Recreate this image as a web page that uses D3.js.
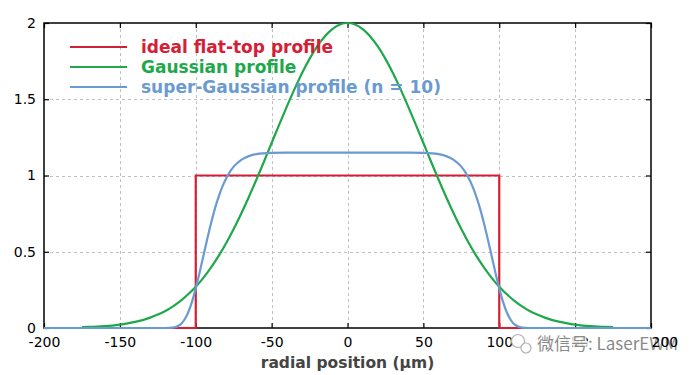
<!DOCTYPE html>
<html>
<head>
<meta charset="utf-8">
<script src="https://cdn.jsdelivr.net/npm/d3@7"></script>
<style>
  html, body { margin: 0; padding: 0; background: #fff; }
  svg { display: block; font-family: "DejaVu Sans", Verdana, sans-serif; }
</style>
</head>
<body>
<svg id="chart" width="700" height="375"></svg>
<script>
// ---- data ----
const xTicks = [-200, -150, -100, -50, 0, 50, 100, 150, 200];
const yTicks = [0, 0.5, 1, 1.5, 2];
const yTickLabels = ["0", "0.5", "1", "1.5", "2"];
const seriesNames = ["ideal flat-top profile", "Gaussian profile", "super-Gaussian profile (n = 10)"];
const xLabel = "radial position (μm)";
const watermark = "微信号: LaserEWM";

// ideal flat-top profile
const flatX = [-200, -100, -100, 100, 100, 200];
const flatY = [0, 0, 1, 1, 0, 0];

// Gaussian profile
const gaussX = [-175, -170, -165, -160, -155, -150, -145, -140, -135, -130, -125, -120, -115, -110, -105, -100,
  -95, -90, -85, -80, -75, -70, -65, -60, -55, -50, -45, -40, -35, -30, -25, -20, -15, -10, -5, 0,
  5, 10, 15, 20, 25, 30, 35, 40, 45, 50, 55, 60, 65, 70, 75, 80, 85, 90, 95,
  100, 105, 110, 115, 120, 125, 130, 135, 140, 145, 150, 155, 160, 165, 170, 175];
const gaussY = [0.006, 0.007, 0.009, 0.012, 0.016, 0.022, 0.030, 0.040, 0.052, 0.068, 0.088, 0.112, 0.142, 0.178, 0.221, 0.271,
  0.329, 0.396, 0.471, 0.556, 0.649, 0.751, 0.859, 0.974, 1.092, 1.213, 1.334, 1.452, 1.565, 1.671, 1.765, 1.846, 1.912, 1.960, 1.990, 2.000,
  1.990, 1.960, 1.912, 1.846, 1.765, 1.671, 1.565, 1.452, 1.334, 1.213, 1.092, 0.974, 0.859, 0.751, 0.649, 0.556, 0.471, 0.396, 0.329,
  0.271, 0.221, 0.178, 0.142, 0.112, 0.088, 0.068, 0.052, 0.040, 0.030, 0.022, 0.016, 0.012, 0.009, 0.007, 0.006];

// super-Gaussian profile (n = 10)
const sgX = [-200, -150, -120, -115, -112.5, -110, -107.5, -105, -102.5, -100, -97.5, -95, -92.5, -90, -87.5, -85, -82.5, -80, -77.5, -75, -70, -65, -60, -50, -40, 0,
  40, 50, 60, 65, 70, 75, 77.5, 80, 82.5, 85, 87.5, 90, 92.5, 95, 97.5, 100, 102.5, 105, 107.5, 110, 112.5, 115, 120, 150, 200];
const sgY = [0, 0, 0, 0.003, 0.009, 0.024, 0.054, 0.102, 0.171, 0.260, 0.362, 0.472, 0.581, 0.684, 0.778, 0.858, 0.925, 0.980, 1.024, 1.058, 1.103, 1.127, 1.140, 1.148, 1.150, 1.150,
  1.150, 1.148, 1.140, 1.127, 1.103, 1.058, 1.024, 0.980, 0.925, 0.858, 0.778, 0.684, 0.581, 0.472, 0.362, 0.260, 0.171, 0.102, 0.054, 0.024, 0.009, 0.003, 0, 0, 0];

const colors = ["#d42035", "#1ea84a", "#6a9bd0"];

// ---- layout ----
const svg = d3.select("#chart");
const L = 44, R = 651, T = 23, B = 328;
const x = d3.scaleLinear().domain([-200, 200]).range([L, R]);
const y = d3.scaleLinear().domain([0, 2]).range([B, T]);

// grid
const grid = svg.append("g");
grid.selectAll("line.gx").data(xTicks.slice(1, -1)).enter().append("line")
  .attr("x1", d => Math.round(x(d)) + 0.5).attr("x2", d => Math.round(x(d)) + 0.5)
  .attr("y1", T).attr("y2", B)
  .attr("stroke", "#c0c0c0").attr("stroke-width", 1).attr("stroke-dasharray", "3,3");
grid.selectAll("line.gy").data(yTicks.slice(1, -1)).enter().append("line")
  .attr("y1", d => Math.round(y(d)) + 0.5).attr("y2", d => Math.round(y(d)) + 0.5)
  .attr("x1", L).attr("x2", R)
  .attr("stroke", "#c0c0c0").attr("stroke-width", 1).attr("stroke-dasharray", "3,3");

// axes (ticks inside)
const tl = 5;
const xAxisB = d3.axisBottom(x).tickValues(xTicks).tickSize(-tl).tickPadding(9).tickFormat(d => d);
const xAxisT = d3.axisTop(x).tickValues(xTicks).tickSize(-tl).tickFormat("");
const yAxisL = d3.axisLeft(y).tickValues(yTicks).tickSize(-tl).tickPadding(8).tickFormat((d, i) => yTickLabels[i]);
const yAxisR = d3.axisRight(y).tickValues(yTicks).tickSize(-tl).tickFormat("");

function style(g) {
  g.select(".domain").remove();
  g.selectAll(".tick line").attr("stroke", "#000").attr("stroke-width", 1.2);
  g.selectAll(".tick text").attr("fill", "#000").style("font-size", "14px").style("font-family", "DejaVu Sans, Verdana, sans-serif");
}
const gxB = svg.append("g").attr("transform", `translate(0,${B})`).call(xAxisB).call(style);
svg.append("g").attr("transform", `translate(0,${T})`).call(xAxisT).call(style);
svg.append("g").attr("transform", `translate(${L},0)`).call(yAxisL).call(style);
svg.append("g").attr("transform", `translate(${R},0)`).call(yAxisR).call(style);

// frame
svg.append("rect").attr("x", L).attr("y", T).attr("width", R - L).attr("height", B - T)
  .attr("fill", "none").attr("stroke", "#000").attr("stroke-width", 1.5);

// lines
const lineLin = d3.line().x(d => x(d[0])).y(d => y(d[1])).curve(d3.curveLinear);
const lineSmooth = d3.line().x(d => x(d[0])).y(d => y(d[1])).curve(d3.curveMonotoneX);

const plot = svg.append("g");
plot.append("path").datum(flatX.map((v, i) => [v, flatY[i]]))
  .attr("d", lineLin).attr("fill", "none").attr("stroke", colors[0]).attr("stroke-width", 2.2);
plot.append("path").datum(gaussX.map((v, i) => [v, gaussY[i]]))
  .attr("d", lineSmooth).attr("fill", "none").attr("stroke", colors[1]).attr("stroke-width", 2.2);
plot.append("path").datum(sgX.map((v, i) => [v, sgY[i]]))
  .attr("d", lineSmooth).attr("fill", "none").attr("stroke", colors[2]).attr("stroke-width", 2.2);

// legend
const leg = svg.append("g");
seriesNames.forEach((name, i) => {
  const yy = 47 + i * 20;
  leg.append("line").attr("x1", 70).attr("x2", 127).attr("y1", yy).attr("y2", yy)
    .attr("stroke", colors[i]).attr("stroke-width", 2.2);
  leg.append("text").attr("x", 141).attr("y", yy + 6).text(name)
    .attr("fill", colors[i]).style("font-weight", "bold").style("font-size", "17px");
});

// axis title
svg.append("text").attr("x", (L + R) / 2).attr("y", 368).attr("text-anchor", "middle")
  .text(xLabel).attr("fill", "#444").style("font-weight", "bold").style("font-size", "15.5px");

// watermark
const wm = svg.append("g");
wm.append("circle").attr("cx", 518).attr("cy", 341).attr("r", 6.5).attr("fill", "#fff").attr("stroke", "#b0b0b0").attr("stroke-width", 1.2);
wm.append("circle").attr("cx", 526).attr("cy", 348).attr("r", 5).attr("fill", "#fff").attr("stroke", "#b0b0b0").attr("stroke-width", 1.2);
wm.append("text").attr("x", 537).attr("y", 350).text(watermark)
  .attr("fill", "#8a8a8a").attr("stroke", "#fff").attr("stroke-width", 3).attr("stroke-opacity", 0.9)
  .style("paint-order", "stroke").style("font-size", "17px").style("font-family", "Noto Sans CJK SC, sans-serif");

// the last x tick label sits on top of the watermark (as in the reference)
const topTicks = svg.append("g").attr("transform", `translate(0,${B})`);
const lastTick = gxB.selectAll(".tick").filter(d => d === 200).node();
if (lastTick) topTicks.node().appendChild(lastTick);
</script>
</body>
</html>
